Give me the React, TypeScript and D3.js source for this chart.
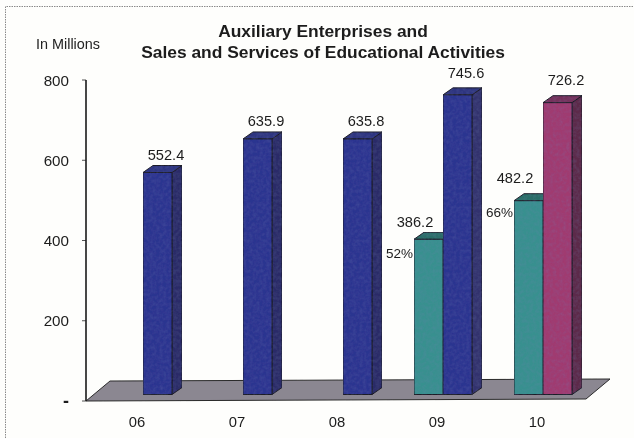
import React from "react";
import * as d3 from "d3";

const categories = ["06", "07", "08", "09", "10"];
const priorValues: (number | null)[] = [null, null, null, 386.2, 482.2];
const mainValues = [552.4, 635.9, 635.8, 745.6, 726.2];
const percentLabels: (string | null)[] = [null, null, null, "52%", "66%"];
const yTicks = [0, 200, 400, 600, 800];
const mainColors = ["#2c3490", "#2c3490", "#2c3490", "#2c3490", "#a03a70"];
const mainSideColors = ["#2b2c68", "#2b2c68", "#2b2c68", "#33336e", "#5c2a4a"];
const mainTopColors = ["#2e3580", "#2e3580", "#2e3580", "#2e3580", "#75305a"];

// label nudges, as placed in the source chart
const mainLabelGap = [13, 13, 13, 17, 18];
const priorLabelGap = [0, 0, 0, 12, 18];
const percentDrop = [0, 0, 0, 19, 16];

const FONT = "Liberation Sans, Arial, sans-serif";
const DX = 10;
const DY = -7;
const INK = "#1c1c1c";

function Bar({ x, w, top, bottom, front, side, topC }: { x: number; w: number; top: number; bottom: number; front: string; side: string; topC: string }) {
  const line = d3.line();
  return (
    <g stroke="#1d1d28" strokeWidth={1} strokeLinejoin="round" filter="url(#grain)">
      <path d={line([[x + w, top], [x + w + DX, top + DY], [x + w + DX, bottom + DY], [x + w, bottom]])! + "Z"} fill={side} />
      <path d={line([[x, top], [x + DX, top + DY], [x + w + DX, top + DY], [x + w, top]])! + "Z"} fill={topC} />
      <rect x={x} y={top} width={w} height={bottom - top} fill={front} />
    </g>
  );
}

export default function App() {
  const axisY = d3.scaleLinear().domain([0, 800]).range([401, 80]);
  const barY = d3.scaleLinear().domain([0, 800]).range([394.5, 73]);
  const band = d3.scaleBand<string>().domain(categories).range([93, 593]);
  const center = (c: string) => band(c)! + band.bandwidth() / 2;
  const barW = 29;
  const floor = d3.line()([[86, 401], [110, 381], [610, 379], [586, 399]])! + "Z";

  return (
    <svg width={634} height={438} style={{ position: "absolute", left: 0, top: 0, background: "#fefefc" }} fontFamily={FONT}>
      <defs>
        <filter id="soft" x="-5%" y="-5%" width="110%" height="110%">
          <feGaussianBlur stdDeviation="0.5" />
        </filter>
        <filter id="grain" x="0" y="0" width="100%" height="100%" colorInterpolationFilters="sRGB">
          <feTurbulence type="fractalNoise" baseFrequency="0.3" numOctaves="2" seed="4" result="n" />
          <feColorMatrix in="n" type="matrix" values="0 0 0 0 0.45  0 0 0 0 0.5  0 0 0 0 0.7  0.4 0 0 0 -0.14" result="speck" />
          <feComposite in="speck" in2="SourceAlpha" operator="in" result="clipped" />
          <feMerge>
            <feMergeNode in="SourceGraphic" />
            <feMergeNode in="clipped" />
          </feMerge>
        </filter>
      </defs>
      <g filter="url(#soft)">
        <path d="M5.5 438V6.5H634" fill="none" stroke="#8a8a8a" strokeWidth={1} strokeDasharray="1.5 1" />

        <text x={323} y={37} textAnchor="middle" fontSize={17.4} fontWeight="bold" fill={INK}>Auxiliary Enterprises and</text>
        <text x={323} y={58} textAnchor="middle" fontSize={17.4} fontWeight="bold" fill={INK}>Sales and Services of Educational Activities</text>
        <text x={36} y={49} fontSize={14.4} fill="#222">In Millions</text>

        {yTicks.map((t) => (
          <g key={t}>
            <line x1={82} x2={86} y1={axisY(t)} y2={axisY(t)} stroke="#555" strokeWidth={1} />
            <text x={69} y={axisY(t) + 5.5} textAnchor="end" fontSize={t === 0 ? 18 : 15.2} fontWeight={t === 0 ? "bold" : "normal"} fill={INK}>{t === 0 ? "-" : t}</text>
          </g>
        ))}

        <path d={floor} fill="#8b8791" stroke="#2a2a2a" strokeWidth={1} />
        <line x1={86} x2={86} y1={axisY(800)} y2={axisY(0)} stroke="#1a1a1a" strokeWidth={1.6} />

        {categories.map((c, i) => {
          const cx = center(c);
          const prior = priorValues[i];
          return (
            <g key={c}>
              {prior !== null && (
                <Bar x={cx - barW} w={barW} top={barY(prior)} bottom={barY(0)} front="#38908f" side="#2f6f6f" topC="#2b6e68" />
              )}
              <Bar x={cx} w={barW} top={barY(mainValues[i])} bottom={barY(0)} front={mainColors[i]} side={mainSideColors[i]} topC={mainTopColors[i]} />
              <text x={cx + 23} y={barY(mainValues[i]) - mainLabelGap[i]} textAnchor="middle" fontSize={14.6} fill={INK}>{mainValues[i].toFixed(1)}</text>
              {prior !== null && (
                <>
                  <text x={cx - 28} y={barY(prior) - priorLabelGap[i]} textAnchor="middle" fontSize={14.6} fill={INK}>{prior.toFixed(1)}</text>
                  <text x={cx - barW - 1} y={barY(prior) + percentDrop[i]} textAnchor="end" fontSize={13.5} fill={INK}>{percentLabels[i]}</text>
                </>
              )}
              <text x={cx - 6} y={427} textAnchor="middle" fontSize={14.8} fill={INK}>{c}</text>
            </g>
          );
        })}
      </g>
    </svg>
  );
}
